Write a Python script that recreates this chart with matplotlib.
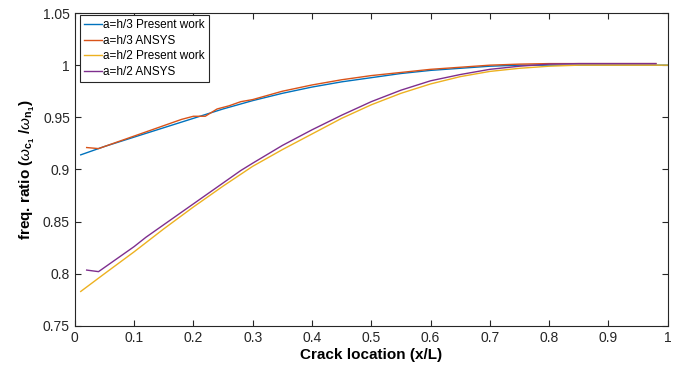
import matplotlib
matplotlib.use('Agg')
import matplotlib.pyplot as plt

plt.rcParams['font.family'] = ['Liberation Sans', 'DejaVu Sans']
plt.rcParams['mathtext.fontset'] = 'custom'
plt.rcParams['mathtext.rm'] = 'Liberation Sans:bold'
plt.rcParams['mathtext.it'] = 'Liberation Sans:italic'
plt.rcParams['mathtext.bf'] = 'Liberation Sans:bold'

# a=h/3 present work
x_h3_pw = [0.01, 0.05, 0.1, 0.15, 0.2, 0.25, 0.3, 0.35, 0.4, 0.45, 0.5,
           0.55, 0.6, 0.65, 0.7, 0.75, 0.8, 0.85, 0.9, 0.95, 1.0]
y_h3_pw = [0.914, 0.922, 0.931, 0.940, 0.949, 0.958, 0.966, 0.973, 0.979, 0.984, 0.988,
           0.992, 0.995, 0.997, 0.999, 1.000, 1.000, 1.000, 1.000, 1.000, 1.000]

# a=h/3 ANSYS
x_h3_an = [0.02, 0.04, 0.06, 0.08, 0.1, 0.12, 0.14, 0.16, 0.18, 0.2, 0.22, 0.24,
           0.26, 0.28, 0.3, 0.35, 0.4, 0.45, 0.5, 0.55, 0.6, 0.65, 0.7, 0.75,
           0.8, 0.85, 0.9, 0.95, 0.98]
y_h3_an = [0.921, 0.920, 0.924, 0.928, 0.932, 0.936, 0.940, 0.944, 0.948, 0.951, 0.951, 0.958,
           0.961, 0.965, 0.967, 0.975, 0.981, 0.986, 0.990, 0.993, 0.996, 0.998, 1.000, 1.001,
           1.0015, 1.0015, 1.0015, 1.0015, 1.0015]

# a=h/2 present work
x_h2_pw = [0.01, 0.05, 0.1, 0.15, 0.2, 0.25, 0.3, 0.35, 0.4, 0.45, 0.5,
           0.55, 0.6, 0.65, 0.7, 0.75, 0.8, 0.85, 0.9, 0.95, 1.0]
y_h2_pw = [0.783, 0.800, 0.821, 0.843, 0.864, 0.884, 0.903, 0.919, 0.934, 0.949, 0.962,
           0.973, 0.982, 0.989, 0.994, 0.997, 0.999, 1.000, 1.000, 1.000, 1.000]

# a=h/2 ANSYS
x_h2_an = [0.02, 0.04, 0.06, 0.08, 0.1, 0.12, 0.14, 0.16, 0.18, 0.2, 0.22, 0.24,
           0.26, 0.28, 0.3, 0.35, 0.4, 0.45, 0.5, 0.55, 0.6, 0.65, 0.7, 0.75,
           0.8, 0.85, 0.9, 0.95, 0.98]
y_h2_an = [0.8035, 0.802, 0.810, 0.818, 0.826, 0.835, 0.843, 0.851, 0.859, 0.867, 0.875, 0.883,
           0.891, 0.899, 0.906, 0.923, 0.938, 0.952, 0.965, 0.976, 0.985, 0.991, 0.996, 0.999,
           1.001, 1.0015, 1.0015, 1.0015, 1.0015]

x_ticks = [0, 0.1, 0.2, 0.3, 0.4, 0.5, 0.6, 0.7, 0.8, 0.9, 1]
x_labels = ['0', '0.1', '0.2', '0.3', '0.4', '0.5', '0.6', '0.7', '0.8', '0.9', '1']
y_ticks = [0.75, 0.8, 0.85, 0.9, 0.95, 1.0, 1.05]
y_labels = ['0.75', '0.8', '0.85', '0.9', '0.95', '1', '1.05']

fig = plt.figure(figsize=(6.8, 3.72), dpi=100)
ax = fig.add_axes([0.110, 0.124, 0.872, 0.841])

ax.plot(x_h3_pw, y_h3_pw, color='#0072BD', lw=1, label='a=h/3 Present work')
ax.plot(x_h3_an, y_h3_an, color='#D95319', lw=1, label='a=h/3 ANSYS')
ax.plot(x_h2_pw, y_h2_pw, color='#EDB120', lw=1, label='a=h/2 Present work')
ax.plot(x_h2_an, y_h2_an, color='#7E2F8E', lw=1, label='a=h/2 ANSYS')

ax.set_xlim(0, 1)
ax.set_ylim(0.75, 1.05)
ax.set_xticks(x_ticks)
ax.set_xticklabels(x_labels)
ax.set_yticks(y_ticks)
ax.set_yticklabels(y_labels)
ax.tick_params(direction='in', length=4.5, width=0.8, top=True, right=True,
               labelsize=10, colors='#262626')
for s in ax.spines.values():
    s.set_color('#262626')
    s.set_linewidth(0.8)

ax.set_xlabel('Crack location (x/L)', fontsize=11, fontweight='bold', labelpad=2)
ax.set_ylabel(r'freq. ratio ($\omega_{\mathbf{c}_\mathbf{1}}$ /$\omega_{\mathbf{n}_\mathbf{1}}$)',
              fontsize=11, fontweight='bold', labelpad=4)

leg = ax.legend(loc='upper left', bbox_to_anchor=(0.0084, 0.9936), borderaxespad=0,
                fontsize=8.5, handlelength=1.5, handletextpad=0.1, borderpad=0.35,
                labelspacing=0.3, fancybox=False, framealpha=1, edgecolor='#262626')
leg.get_frame().set_linewidth(0.8)

fig.savefig('out.png', dpi=100)
